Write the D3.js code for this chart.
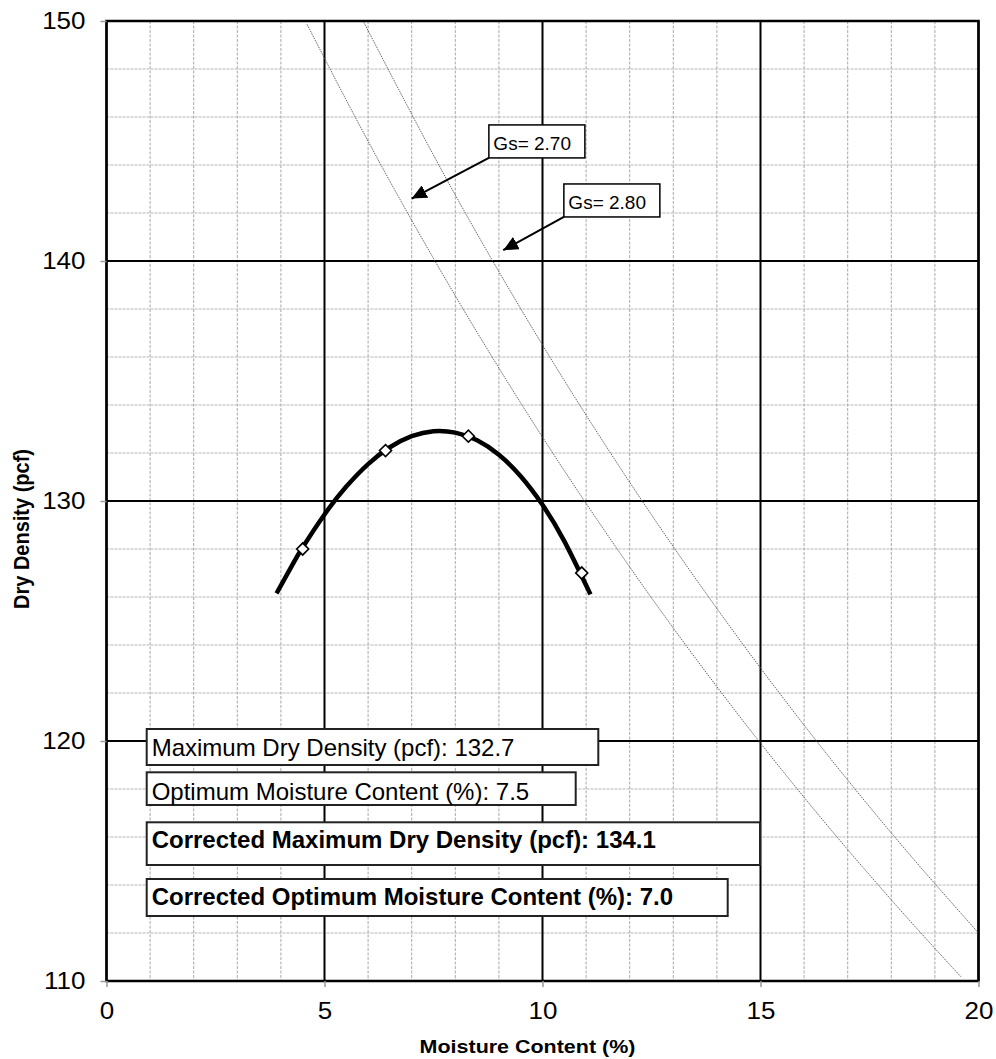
<!DOCTYPE html>
<html>
<head>
<meta charset="utf-8">
<script src="https://cdn.jsdelivr.net/npm/d3@7"></script>
<style>
  body { margin: 0; background: #fff; }
  svg { display: block; font-family: Arial, "Liberation Sans", sans-serif; }
</style>
</head>
<body>
<script>
// measured points (moisture %, dry density pcf)
const pointMoisture = [4.5, 6.4, 8.3, 10.9];
const pointDensity = [128.0, 132.1, 132.7, 127.0];

// fitted compaction curve
const curveMoisture = [3.9, 4.25, 4.5, 5.0, 5.5, 6.0, 6.5, 7.0, 7.5, 8.0, 8.5, 9.0, 9.5, 10.0, 10.5, 11.1];
const curveDensity = [126.15, 127.3, 128.07, 129.44, 130.6, 131.54, 132.24, 132.7, 132.91, 132.85, 132.53, 131.93, 131.03, 129.84, 128.33, 126.11];

// zero air voids lines
const zav270Moisture = [4.6, 6, 8, 10, 12, 14, 16, 18, 19.6];
const zav270Density = [149.86, 144.99, 138.55, 132.66, 127.25, 122.26, 117.65, 113.38, 110.17];
const zav280Moisture = [5.9, 8, 10, 12, 14, 16, 18, 20];
const zav280Density = [149.95, 142.75, 136.5, 130.78, 125.52, 120.66, 116.17, 112.0];

// Gs call-outs (arrow tip and box corner in chart units)
const gsLabels = ["Gs= 2.70", "Gs= 2.80"];
const gsTipX = [7.0, 9.1];
const gsTipY = [142.6, 140.45];
const gsBoxX = [8.77, 10.49];
const gsBoxY = [145.67, 143.21];

const xMajorTicks = [0, 5, 10, 15, 20];
const yMajorTicks = [110, 120, 130, 140, 150];
const xMinorTicks = d3.range(0, 21, 1);
const yMinorTicks = d3.range(110, 151, 2);

const resultLabels = [
  "Maximum Dry Density (pcf): 132.7",
  "Optimum Moisture Content (%): 7.5",
  "Corrected Maximum Dry Density (pcf): 134.1",
  "Corrected Optimum Moisture Content (%): 7.0"
];

// set the dimensions and margins of the graph
const margin = {top: 21, right: 17.5, bottom: 78, left: 106.5},
    width = 996 - margin.left - margin.right,
    height = 1059 - margin.top - margin.bottom;

const stretch = 1.13; // axis text in the original is a bit wide

const svg = d3.select("body")
  .append("svg")
    .attr("width", 996)
    .attr("height", 1059);

const g = svg.append("g")
    .attr("transform", `translate(${margin.left}, ${margin.top})`);

const x = d3.scaleLinear().domain([0, 20]).range([0, width]);
const y = d3.scaleLinear().domain([110, 150]).range([height, 0]);

svg.append("defs").append("marker")
    .attr("id", "head")
    .attr("markerUnits", "userSpaceOnUse")
    .attr("markerWidth", 16).attr("markerHeight", 14)
    .attr("refX", 15).attr("refY", 7)
    .attr("orient", "auto")
  .append("path")
    .attr("d", "M0,0 L15,7 L0,14 Z")
    .attr("fill", "#000");

drawGrid();
drawAxes();
drawZav();
drawCurve();
drawCallouts();
drawResults();

function drawGrid() {
  g.selectAll(".minor-y")
    .data(yMinorTicks)
    .enter().append("line")
      .attr("x1", 0).attr("x2", width)
      .attr("y1", d => y(d)).attr("y2", d => y(d))
      .attr("stroke", "#cfcfcf").attr("stroke-width", 1.6)
      .attr("stroke-dasharray", "3,1");
  g.selectAll(".minor-x")
    .data(xMinorTicks)
    .enter().append("line")
      .attr("x1", d => x(d)).attr("x2", d => x(d))
      .attr("y1", 0).attr("y2", height)
      .attr("stroke", "#a8a8a8").attr("stroke-width", 1)
      .attr("stroke-dasharray", "3,1.5");
  g.selectAll(".major-x")
    .data(xMajorTicks)
    .enter().append("line")
      .attr("x1", d => x(d)).attr("x2", d => x(d))
      .attr("y1", 0).attr("y2", height)
      .attr("stroke", "#000").attr("stroke-width", 2);
  g.selectAll(".major-y")
    .data(yMajorTicks)
    .enter().append("line")
      .attr("x1", 0).attr("x2", width)
      .attr("y1", d => y(d)).attr("y2", d => y(d))
      .attr("stroke", "#000").attr("stroke-width", 2);
  g.append("rect")
    .attr("width", width).attr("height", height)
    .attr("fill", "none").attr("stroke", "#000").attr("stroke-width", 2.5);
}

function stretchLabels(sel) {
  sel.selectAll("text").each(function() {
    const t = d3.select(this);
    const tx = +t.attr("x") || 0, ty = +t.attr("y") || 0;
    t.attr("x", 0).attr("y", 0)
      .attr("transform", `translate(${tx},${ty}) scale(${stretch},1)`);
  });
}

function drawAxes() {
  const yAxis = g.append("g")
    .call(d3.axisLeft(y).tickValues(yMajorTicks).tickSize(6).tickPadding(15));
  const xAxis = g.append("g")
    .attr("transform", `translate(0, ${height})`)
    .call(d3.axisBottom(x).tickValues(xMajorTicks).tickSize(6).tickPadding(16));
  [xAxis, yAxis].forEach(a => {
    a.select(".domain").remove();
    a.selectAll("line").attr("stroke", "#999").attr("stroke-width", 1.5);
    a.selectAll("text")
      .attr("font-family", "Arial, 'Liberation Sans', sans-serif")
      .attr("font-size", 23).attr("fill", "#000");
    stretchLabels(a);
  });

  svg.append("text")
    .attr("transform", `translate(527.5, 1052.7) scale(${stretch},1)`)
    .attr("text-anchor", "middle")
    .attr("font-size", 19).attr("font-weight", "bold")
    .text("Moisture Content (%)");

  svg.append("text")
    .attr("transform", `translate(29, 529) scale(${stretch},1) rotate(-90)`)
    .attr("text-anchor", "middle")
    .attr("font-size", 20).attr("font-weight", "bold")
    .text("Dry Density (pcf)");
}

function drawZav() {
  const line = d3.line().x(d => x(d[0])).y(d => y(d[1])).curve(d3.curveMonotoneX);
  [[zav270Moisture, zav270Density], [zav280Moisture, zav280Density]].forEach(s => {
    g.append("path")
      .datum(d3.zip(s[0], s[1]))
      .attr("d", line)
      .attr("fill", "none")
      .attr("stroke", "#555").attr("stroke-width", 0.9)
      .attr("stroke-dasharray", "1.5,1");
  });
}

function drawCurve() {
  const line = d3.line().x(d => x(d[0])).y(d => y(d[1])).curve(d3.curveNatural);
  g.append("path")
    .datum(d3.zip(curveMoisture, curveDensity))
    .attr("d", line)
    .attr("fill", "none")
    .attr("stroke", "#000").attr("stroke-width", 4.5);

  g.selectAll(".pt")
    .data(d3.zip(pointMoisture, pointDensity))
    .enter().append("path")
      .attr("d", d3.symbol().type(d3.symbolSquare).size(72))
      .attr("transform", d => `translate(${x(d[0])},${y(d[1])}) rotate(45)`)
      .attr("fill", "#fff").attr("stroke", "#000").attr("stroke-width", 1.6);
}

function drawCallouts() {
  gsLabels.forEach((label, i) => {
    const bx = x(gsBoxX[i]), by = y(gsBoxY[i]);
    g.append("line")
      .attr("x1", bx).attr("y1", by + 33)
      .attr("x2", x(gsTipX[i])).attr("y2", y(gsTipY[i]))
      .attr("stroke", "#000").attr("stroke-width", 2)
      .attr("marker-end", "url(#head)");
    g.append("rect")
      .attr("x", bx).attr("y", by)
      .attr("width", 96).attr("height", 33)
      .attr("fill", "#fff").attr("stroke", "#000").attr("stroke-width", 1.5);
    g.append("text")
      .attr("x", bx + 4.5).attr("y", by + 25.5)
      .attr("font-size", 19)
      .text(label);
  });
}

function drawResults() {
  // box layout in page pixels
  const boxTop = [729, 772.3, 822.3, 879];
  const boxH = [36, 32.7, 42.7, 37];
  const boxRight = [598.3, 575.7, 760, 727.7];
  const baseline = [756, 800, 848, 905];
  resultLabels.forEach((label, i) => {
    svg.append("rect")
      .attr("x", 146.7).attr("y", boxTop[i])
      .attr("width", boxRight[i] - 146.7).attr("height", boxH[i])
      .attr("fill", "#fff").attr("stroke", "#222").attr("stroke-width", 2);
    svg.append("text")
      .attr("x", 151.7).attr("y", baseline[i])
      .attr("font-size", 24)
      .attr("font-weight", i > 1 ? "bold" : "normal")
      .text(label);
  });
}
</script>
</body>
</html>
